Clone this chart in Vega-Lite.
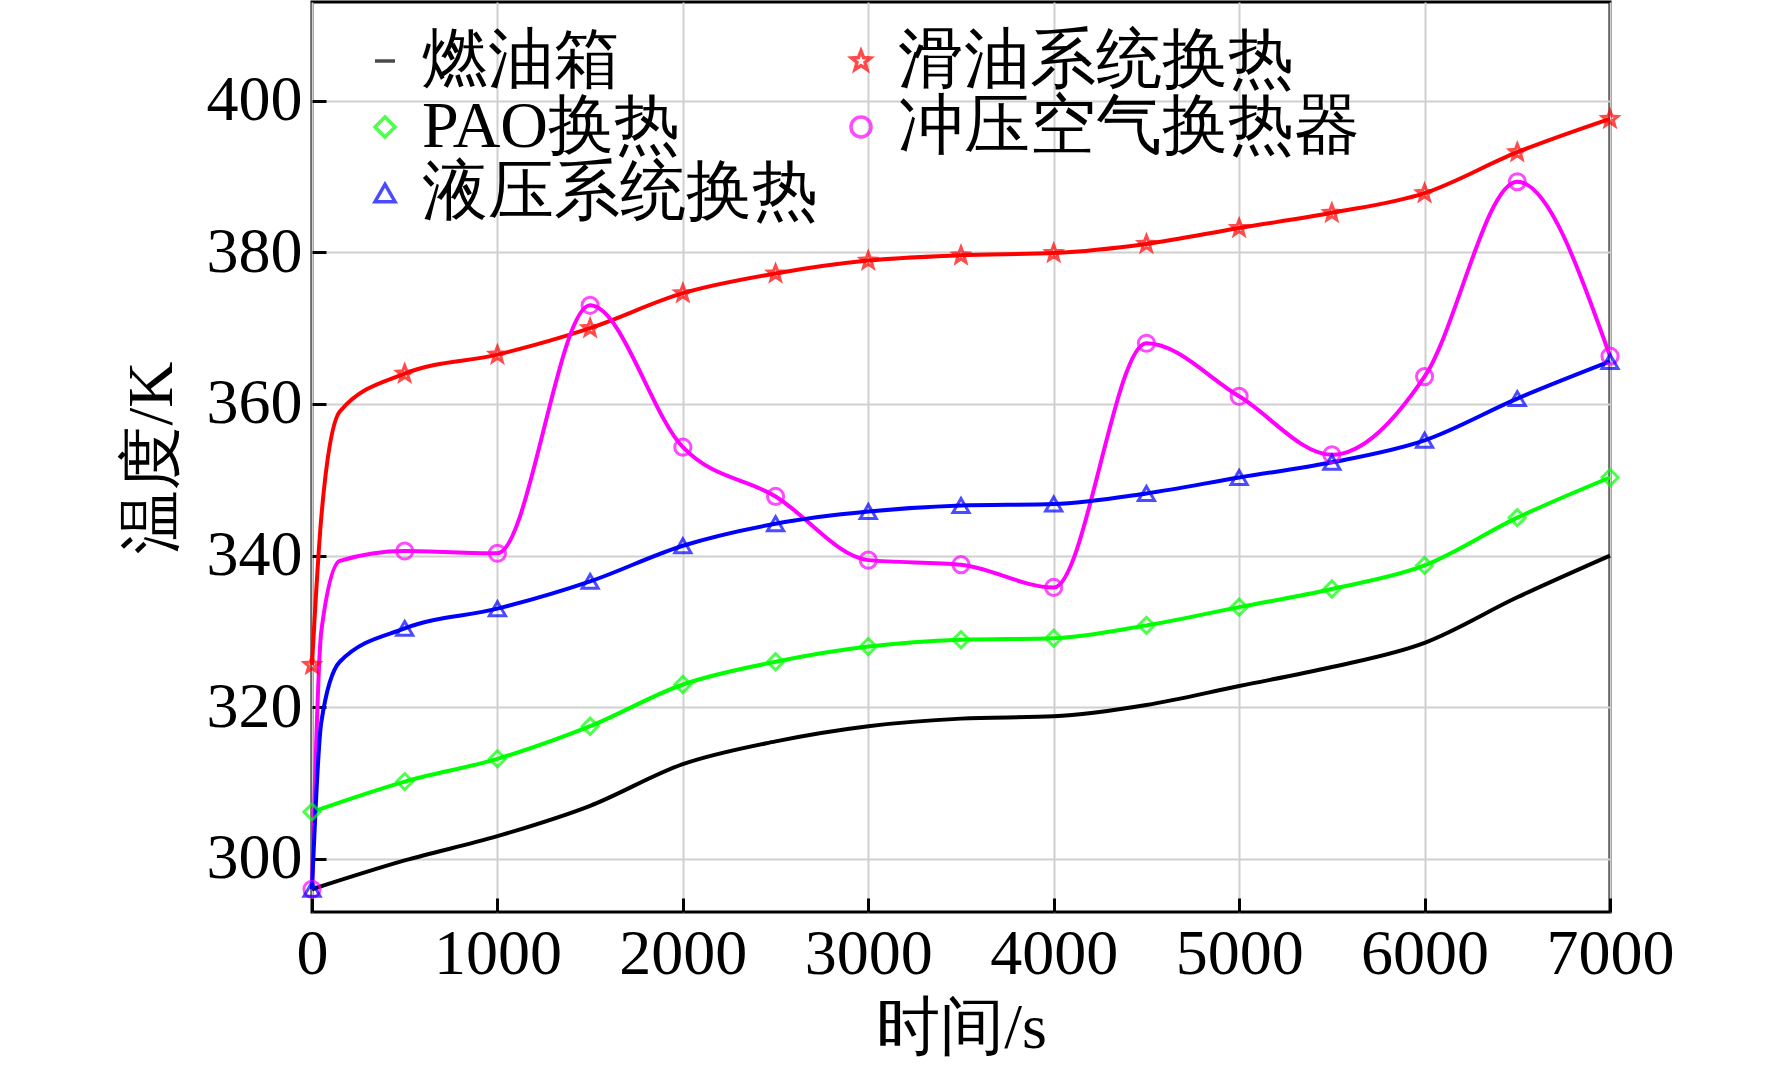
{
  "$schema": "https://vega.github.io/schema/vega-lite/v6.json",
  "width": 1298,
  "height": 910,
  "autosize": "none",
  "padding": {"left": 312, "top": 2, "right": 162, "bottom": 174},
  "background": "white",
  "config": {
    "font": "Liberation Serif",
    "view": {"stroke": "black", "strokeWidth": 3},
    "axis": {"labelFont": "Liberation Serif", "titleFont": "Liberation Serif", "labelFontSize": 64, "titleFontSize": 64, "labelColor": "black", "titleColor": "black", "titleFontWeight": "normal", "gridColor": "#d0d0d0", "gridWidth": 2, "tickColor": "black", "tickSize": -14, "tickWidth": 3, "domain": false, "labelOverlap": false, "labelFlush": false, "format": "d"}
  },
  "data": {"values": [
    {"t": 0, "T": 296, "s": "燃油箱"}, {"t": 500, "T": 299.8, "s": "燃油箱"}, {"t": 1000, "T": 303, "s": "燃油箱"}, {"t": 1500, "T": 307, "s": "燃油箱"}, {"t": 2000, "T": 312.5, "s": "燃油箱"}, {"t": 2500, "T": 315.5, "s": "燃油箱"}, {"t": 3000, "T": 317.5, "s": "燃油箱"}, {"t": 3500, "T": 318.5, "s": "燃油箱"}, {"t": 4000, "T": 318.8, "s": "燃油箱"}, {"t": 4500, "T": 320.3, "s": "燃油箱"}, {"t": 5000, "T": 322.8, "s": "燃油箱"}, {"t": 5500, "T": 325.3, "s": "燃油箱"}, {"t": 6000, "T": 328.5, "s": "燃油箱"}, {"t": 6500, "T": 334.5, "s": "燃油箱"}, {"t": 7000, "T": 340, "s": "燃油箱"},
    {"t": 0, "T": 325.6, "s": "滑油系统换热"}, {"t": 50, "T": 345, "s": "滑油系统换热"}, {"t": 150, "T": 359, "s": "滑油系统换热"}, {"t": 500, "T": 364, "s": "滑油系统换热"}, {"t": 1000, "T": 366.5, "s": "滑油系统换热"}, {"t": 1500, "T": 370, "s": "滑油系统换热"}, {"t": 2000, "T": 374.6, "s": "滑油系统换热"}, {"t": 2500, "T": 377.2, "s": "滑油系统换热"}, {"t": 3000, "T": 378.9, "s": "滑油系统换热"}, {"t": 3500, "T": 379.6, "s": "滑油系统换热"}, {"t": 4000, "T": 379.9, "s": "滑油系统换热"}, {"t": 4500, "T": 381.1, "s": "滑油系统换热"}, {"t": 5000, "T": 383.2, "s": "滑油系统换热"}, {"t": 5500, "T": 385.2, "s": "滑油系统换热"}, {"t": 6000, "T": 387.8, "s": "滑油系统换热"}, {"t": 6500, "T": 393.2, "s": "滑油系统换热"}, {"t": 7000, "T": 397.6, "s": "滑油系统换热"},
    {"t": 0, "T": 306.2, "s": "PAO换热"}, {"t": 500, "T": 310.2, "s": "PAO换热"}, {"t": 1000, "T": 313.2, "s": "PAO换热"}, {"t": 1500, "T": 317.5, "s": "PAO换热"}, {"t": 2000, "T": 323, "s": "PAO换热"}, {"t": 2500, "T": 326, "s": "PAO换热"}, {"t": 3000, "T": 328, "s": "PAO换热"}, {"t": 3500, "T": 328.9, "s": "PAO换热"}, {"t": 4000, "T": 329.1, "s": "PAO换热"}, {"t": 4500, "T": 330.8, "s": "PAO换热"}, {"t": 5000, "T": 333.2, "s": "PAO换热"}, {"t": 5500, "T": 335.6, "s": "PAO换热"}, {"t": 6000, "T": 338.7, "s": "PAO换热"}, {"t": 6500, "T": 345, "s": "PAO换热"}, {"t": 7000, "T": 350.3, "s": "PAO换热"},
    {"t": 0, "T": 296, "s": "冲压空气换热器"}, {"t": 50, "T": 330, "s": "冲压空气换热器"}, {"t": 150, "T": 339.3, "s": "冲压空气换热器"}, {"t": 500, "T": 340.6, "s": "冲压空气换热器"}, {"t": 1000, "T": 340.3, "s": "冲压空气换热器"}, {"t": 1500, "T": 373, "s": "冲压空气换热器"}, {"t": 2000, "T": 354.3, "s": "冲压空气换热器"}, {"t": 2500, "T": 347.8, "s": "冲压空气换热器"}, {"t": 3000, "T": 339.4, "s": "冲压空气换热器"}, {"t": 3500, "T": 338.8, "s": "冲压空气换热器"}, {"t": 4000, "T": 335.8, "s": "冲压空气换热器"}, {"t": 4500, "T": 368, "s": "冲压空气换热器"}, {"t": 5000, "T": 361, "s": "冲压空气换热器"}, {"t": 5500, "T": 353.3, "s": "冲压空气换热器"}, {"t": 6000, "T": 363.6, "s": "冲压空气换热器"}, {"t": 6500, "T": 389.3, "s": "冲压空气换热器"}, {"t": 7000, "T": 366.3, "s": "冲压空气换热器"},
    {"t": 0, "T": 296, "s": "液压系统换热"}, {"t": 50, "T": 318, "s": "液压系统换热"}, {"t": 150, "T": 326, "s": "液压系统换热"}, {"t": 500, "T": 330.4, "s": "液压系统换热"}, {"t": 1000, "T": 333, "s": "液压系统换热"}, {"t": 1500, "T": 336.6, "s": "液压系统换热"}, {"t": 2000, "T": 341.3, "s": "液压系统换热"}, {"t": 2500, "T": 344.2, "s": "液压系统换热"}, {"t": 3000, "T": 345.8, "s": "液压系统换热"}, {"t": 3500, "T": 346.6, "s": "液压系统换热"}, {"t": 4000, "T": 346.8, "s": "液压系统换热"}, {"t": 4500, "T": 348.2, "s": "液压系统换热"}, {"t": 5000, "T": 350.3, "s": "液压系统换热"}, {"t": 5500, "T": 352.3, "s": "液压系统换热"}, {"t": 6000, "T": 355.2, "s": "液压系统换热"}, {"t": 6500, "T": 360.7, "s": "液压系统换热"}, {"t": 7000, "T": 365.6, "s": "液压系统换热"}
  ]},
  "encoding": {
    "x": {"field": "t", "type": "quantitative", "title": "时间/s", "scale": {"domain": [0, 7000], "nice": false}, "axis": {"values": [0, 1000, 2000, 3000, 4000, 5000, 6000, 7000], "labelPadding": 24, "titlePadding": 10}},
    "y": {"field": "T", "type": "quantitative", "title": "温度/K", "scale": {"domain": [293, 413], "nice": false, "zero": false}, "axis": {"values": [300, 320, 340, 360, 380, 400], "labelPadding": 24, "titlePadding": 22}},
    "color": {"field": "s", "type": "nominal", "scale": {"domain": ["燃油箱", "PAO换热", "液压系统换热", "滑油系统换热", "冲压空气换热器"], "range": ["black", "#00ff00", "#0000ff", "#ff0000", "#ff00ff"]},
      "legend": {"title": null, "orient": "none", "legendX": 40, "legendY": 26, "columns": 2, "columnPadding": 10, "rowPadding": 0, "labelFont": "Liberation Serif", "labelFontSize": 66, "labelColor": "black", "symbolSize": 400, "symbolStrokeWidth": 3.5, "labelLimit": 700, "padding": 0}}
  },
  "layer": [
    {"mark": {"type": "line", "interpolate": "monotone", "strokeWidth": 4}},
    {
      "transform": [{"filter": "datum.t % 500 == 0 && datum.s != '燃油箱'"}],
      "mark": {"type": "point", "filled": false, "strokeWidth": 3, "size": 260},
      "encoding": {
        "shape": {"field": "s", "type": "nominal", "scale": {"domain": ["燃油箱", "PAO换热", "液压系统换热", "滑油系统换热", "冲压空气换热器"], "range": ["stroke", "diamond", "triangle-up", "M0,-1L0.25,-0.35L0.95,-0.3L0.4,0.15L0.6,0.85L0,0.45L-0.6,0.85L-0.4,0.15L-0.95,-0.3L-0.25,-0.35Z", "circle"]}}
      }
    }
  ]
}
